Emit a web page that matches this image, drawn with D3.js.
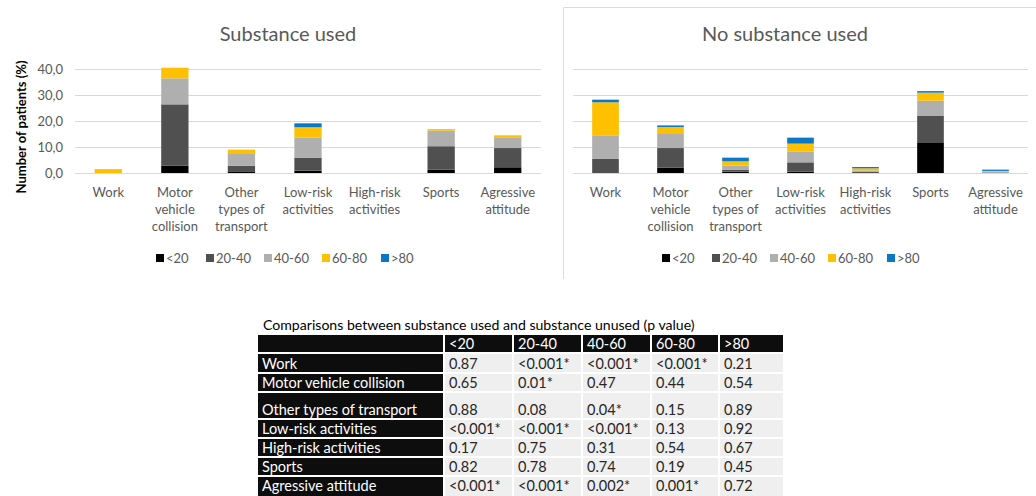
<!DOCTYPE html>
<html>
<head>
<meta charset="utf-8">
<script src="https://cdn.jsdelivr.net/npm/d3@7"></script>
<style>
  html, body { margin: 0; padding: 0; background: #fff; }
  svg { display: block; font-family: Lato, "Open Sans", sans-serif; }
</style>
</head>
<body>
<svg id="chart" width="1036" height="496"></svg>
<script>
// ---------- data ----------
const categories = ["Work", "Motor vehicle collision", "Other types of transport", "Low-risk activities", "High-risk activities", "Sports", "Agressive attitude"];
const categoryLines = [["Work"], ["Motor", "vehicle", "collision"], ["Other", "types of", "transport"], ["Low-risk", "activities"], ["High-risk", "activities"], ["Sports"], ["Agressive", "attitude"]];
const ageGroups = ["<20", "20-40", "40-60", "60-80", ">80"];
const yTicks = [0, 10, 20, 30, 40];

// Substance used (% of patients)
const usedLt20   = [0,   2.8,  0.4, 0.9, 0, 1.3, 2.2];
const used20_40  = [0,  23.6,  2.4, 4.9, 0, 9.0, 7.4];
const used40_60  = [0,  10.0,  4.5, 7.8, 0, 6.0, 3.9];
const used60_80  = [1.5, 4.1,  1.7, 4.0, 0, 0.6, 1.0];
const usedGt80   = [0,   0,    0,   1.5, 0, 0,   0];

// No substance used (% of patients)
const noneLt20   = [0,    2.1, 0.5, 0.5, 0,   11.8, 0];
const none20_40  = [5.4,  7.5, 0.8, 3.6, 0.4, 10.3, 0.2];
const none40_60  = [9.1,  5.4, 1.6, 4.2, 0.6,  5.7, 0.3];
const none60_80  = [12.7, 2.7, 1.6, 3.0, 0.8,  3.1, 0.3];
const noneGt80   = [1.0,  0.6, 1.4, 2.3, 0.5,  0.6, 0.5];

// p-value table
const tableTitle = "Comparisons between substance used and substance unused (p value)";
const tableHeader = ["", "<20", "20-40", "40-60", "60-80", ">80"];
const pWork      = ["0.87", "<0.001*", "<0.001*", "<0.001*", "0.21"];
const pMotor     = ["0.65", "0.01*", "0.47", "0.44", "0.54"];
const pOther     = ["0.88", "0.08", "0.04*", "0.15", "0.89"];
const pLowRisk   = ["<0.001*", "<0.001*", "<0.001*", "0.13", "0.92"];
const pHighRisk  = ["0.17", "0.75", "0.31", "0.54", "0.67"];
const pSports    = ["0.82", "0.78", "0.74", "0.19", "0.45"];
const pAgressive = ["<0.001*", "<0.001*", "0.002*", "0.001*", "0.72"];

// ---------- styles ----------
const colors = ["#000000", "#505050", "#afafaf", "#ffc000", "#0a78c8"];
const textGray = "#595959";
const gridGray = "#d9d9d9";

const svg = d3.select("#chart");

function buildRows(series) {
  return categories.map((c, i) => {
    const r = { cat: c };
    ageGroups.forEach((g, k) => r[g] = series[k][i]);
    return r;
  });
}

function drawPanel(opts) {
  const { x0, x1, yTop, yBottom, title, titleX, series, showAxis, legendX } = opts;
  const g = svg.append("g");
  const x = d3.scaleBand().domain(categories).range([x0, x1]).paddingInner(0.59).paddingOuter(0.295);
  const y = d3.scaleLinear().domain([0, 40]).range([yBottom, yTop]);

  // title
  g.append("text").attr("x", titleX).attr("y", 41).attr("text-anchor", "middle")
    .attr("font-size", 20).attr("fill", textGray).text(title);

  // gridlines
  g.append("g").selectAll("line").data(yTicks).join("line")
    .attr("x1", x0).attr("x2", x1)
    .attr("y1", d => Math.round(y(d)) + 0.5).attr("y2", d => Math.round(y(d)) + 0.5)
    .attr("stroke", gridGray).attr("stroke-width", 1);

  if (showAxis) {
    const ax = d3.axisLeft(y).tickValues(yTicks).tickSize(0).tickPadding(12)
      .tickFormat(d => d3.format(".1f")(d).replace(".", ","));
    const axg = g.append("g").attr("transform", `translate(${x0},0)`).call(ax);
    axg.select(".domain").remove();
    axg.selectAll("text").attr("font-size", 13).attr("fill", textGray).attr("font-family", "Lato, sans-serif");
    g.append("text").attr("transform", `translate(26,${(yTop + yBottom) / 2 + 6}) rotate(-90)`)
      .attr("text-anchor", "middle").attr("font-size", 13).attr("font-weight", "bold")
      .attr("fill", "#000").text("Number of patients (%)");
  }

  // stacked bars
  const stack = d3.stack().keys(ageGroups)(buildRows(series));
  g.append("g").selectAll("g").data(stack).join("g")
    .attr("fill", (d, i) => colors[i])
    .selectAll("rect").data(d => d.filter(p => p[1] - p[0] > 0)).join("rect")
    .attr("x", d => x(d.data.cat))
    .attr("width", x.bandwidth())
    .attr("y", d => y(d[1]))
    .attr("height", d => y(d[0]) - y(d[1]));

  // category labels
  const lab = g.append("g").selectAll("text").data(categories).join("text")
    .attr("x", d => x(d) + x.bandwidth() / 2)
    .attr("y", 197).attr("text-anchor", "middle").attr("font-size", 13).attr("fill", textGray);
  lab.each(function (d, i) {
    d3.select(this).selectAll("tspan").data(categoryLines[i]).join("tspan")
      .attr("x", x(d) + x.bandwidth() / 2)
      .attr("dy", (t, j) => j === 0 ? 0 : 17)
      .text(t => t);
  });

  // legend
  const legendOffsets = [0, 50, 108, 166, 225];
  const lg = g.append("g").attr("transform", `translate(${legendX},0)`);
  ageGroups.forEach((a, i) => {
    lg.append("rect").attr("x", legendOffsets[i]).attr("y", 254).attr("width", 8).attr("height", 8).attr("fill", colors[i]);
    lg.append("text").attr("x", legendOffsets[i] + 10).attr("y", 263).attr("font-size", 13).attr("fill", textGray).text(a);
  });
}

drawPanel({
  x0: 75, x1: 541, yTop: 69, yBottom: 173, title: "Substance used", titleX: 288,
  series: [usedLt20, used20_40, used40_60, used60_80, usedGt80], showAxis: true, legendX: 156
});
drawPanel({
  x0: 573, x1: 1028, yTop: 69, yBottom: 173, title: "No substance used", titleX: 785,
  series: [noneLt20, none20_40, none40_60, none60_80, noneGt80], showAxis: false, legendX: 662
});

// right panel border
svg.append("path").attr("d", "M563.5,279 L563.5,7.5 L1036,7.5")
  .attr("fill", "none").attr("stroke", "#dcdcdc").attr("stroke-width", 1);

// ---------- table ----------
const tableRows = [
  ["Work"].concat(pWork),
  ["Motor vehicle collision"].concat(pMotor),
  ["Other types of transport"].concat(pOther),
  ["Low-risk activities"].concat(pLowRisk),
  ["High-risk activities"].concat(pHighRisk),
  ["Sports"].concat(pSports),
  ["Agressive attitude"].concat(pAgressive)
];
const colEdges = [258, 445, 514, 583, 652, 720, 783];
const rowEdges = [335, 354, 374, 393, 420, 439, 458, 477, 496];

const tg = svg.append("g").attr("font-size", 14.5);
tg.append("text").attr("x", 263).attr("y", 330).attr("font-size", 14.1).attr("fill", "#000").text(tableTitle);

const allRows = [tableHeader].concat(tableRows);
allRows.forEach((row, r) => {
  row.forEach((cell, c) => {
    const dark = r === 0 || c === 0;
    const xL = colEdges[c], xR = colEdges[c + 1];
    const yT = rowEdges[r], yB = rowEdges[r + 1];
    tg.append("rect").attr("x", xL).attr("y", yT)
      .attr("width", xR - xL - (c < 5 ? 2 : 0)).attr("height", yB - yT - (r < 7 ? 2 : 0))
      .attr("fill", dark ? "#0d0d0d" : "#efefef");
    tg.append("text").attr("x", xL + 4).attr("y", yB - 5)
      .attr("fill", dark ? "#ffffff" : "#262626").text(cell);
  });
});
</script>
</body>
</html>
